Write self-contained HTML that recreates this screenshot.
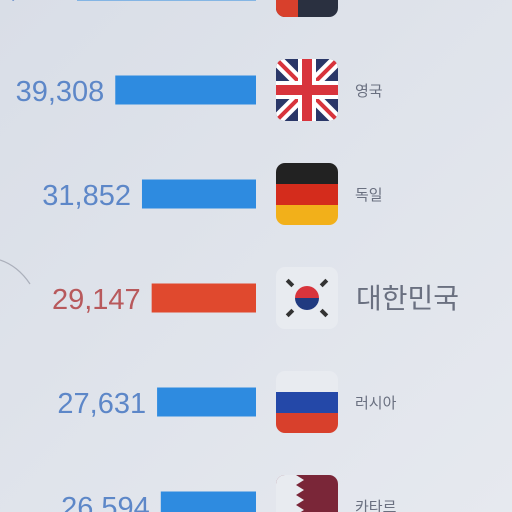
<!DOCTYPE html>
<html><head><meta charset="utf-8"><style>
html,body{margin:0;padding:0;width:512px;height:512px;overflow:hidden;background:#dde2ea}
svg{display:block}
.num{font-family:"Liberation Sans Narrow","Liberation Sans",sans-serif;font-size:29px}
.lbl{font-family:"Liberation Sans","Noto Sans CJK KR",sans-serif;fill:#6a7080}
</style></head><body>
<svg id="chart" width="512" height="512">
<defs>
<linearGradient id="bg" x1="0" y1="0" x2="1" y2="1"><stop offset="0" stop-color="#d9dee7"/><stop offset="1" stop-color="#e6e9ef"/></linearGradient>
<clipPath id="fc"><rect x="0" y="0" width="62" height="62" rx="9"/></clipPath>
</defs>
<rect width="512" height="512" fill="url(#bg)"/>
<path d="M0,260 Q18,266 30,284" stroke="#8a909c" stroke-width="1.2" fill="none" opacity="0.6"/>
<g id="rows"></g>
</svg>
<script>
const countries = ["미국","영국","독일","대한민국","러시아","카타르"];
const values = [50000,39308,31852,29147,27631,26594];
const labels = ["50,000","39,308","31,852","29,147","27,631","26,594"];
const highlight = [false,false,false,true,false,false];

const NS="http://www.w3.org/2000/svg";
const g=document.getElementById('rows');
const barRight=256, scale=0.00358, rowY0=-14, rowStep=104, barH=29;
function xw(v){return v*scale;}
function yc(i){return rowY0+i*rowStep;}
function mk(t,a,p){const e=document.createElementNS(NS,t);for(const k in a)e.setAttribute(k,a[k]);(p||g).appendChild(e);return e;}

function flag(i,grp){
  const c=countries[i];
  if(c==="영국"){
    mk('rect',{x:0,y:0,width:62,height:62,fill:'#2a3768'},grp);
    mk('path',{d:'M0,0L62,62M62,0L0,62',stroke:'#fff',"stroke-width":12},grp);
    mk('path',{d:'M0,0L62,62M62,0L0,62',stroke:'#d8343c',"stroke-width":4},grp);
    mk('path',{d:'M31,0V62M0,31H62',stroke:'#fff',"stroke-width":18},grp);
    mk('path',{d:'M31,0V62M0,31H62',stroke:'#d8343c',"stroke-width":10},grp);
  } else if(c==="독일"){
    mk('rect',{x:0,y:0,width:62,height:21,fill:'#222'},grp);
    mk('rect',{x:0,y:21,width:62,height:21,fill:'#d42c1c'},grp);
    mk('rect',{x:0,y:42,width:62,height:20,fill:'#f2b01a'},grp);
  } else if(c==="대한민국"){
    mk('rect',{x:0,y:0,width:62,height:62,fill:'#e8ebf0'},grp);
    mk('path',{d:'M19,31A12,12 0 0 1 43,31Z',fill:'#d8343c'},grp);
    mk('path',{d:'M19,31A12,12 0 0 0 43,31Z',fill:'#203a80'},grp);
    [[14,16],[48,16],[14,46],[48,46]].forEach(p=>mk('rect',{x:p[0]-4,y:p[1]-2,width:8,height:4,fill:'#333',transform:`rotate(${(p[0]<31)===(p[1]<31)?45:-45} ${p[0]} ${p[1]})`},grp));
  } else if(c==="러시아"){
    mk('rect',{x:0,y:0,width:62,height:21,fill:'#e8ebf0'},grp);
    mk('rect',{x:0,y:21,width:62,height:21,fill:'#2448a8'},grp);
    mk('rect',{x:0,y:42,width:62,height:20,fill:'#d8402c'},grp);
  } else if(c==="카타르"){
    mk('rect',{x:0,y:0,width:62,height:62,fill:'#7a2638'},grp);
    mk('path',{d:'M0,0H20L28,5L20,10L28,15L20,20L28,25L20,30L28,35L20,40L28,45L20,50L28,55L20,62H0Z',fill:'#e8ebf0'},grp);
  } else {
    mk('rect',{x:0,y:0,width:62,height:62,fill:'#2a3040'},grp);
    mk('rect',{x:0,y:0,width:22,height:62,fill:'#d8402c'},grp);
  }
}

countries.forEach((c,i)=>{
  const y=yc(i), w=xw(values[i]);
  const bar=mk('rect',{x:barRight-w,y:y-barH/2,width:w,height:barH,fill:highlight[i]?'#e0492e':'#2e8be0'});
  
  
  const t=mk('text',{x:barRight-w-11,y:y+11,"text-anchor":"end",class:'num',fill:highlight[i]?'#b8595c':'#5d87c8'});
  t.textContent=labels[i];
  
  
  const fg=mk('g',{transform:`translate(276,${y-31})`});
  
  
  const inner=mk('g',{"clip-path":"url(#fc)"},fg);
  flag(i,inner);
  const big=highlight[i];
  const l=mk('text',{x:big?356:355,y:y+(big?10:6),class:'lbl',"font-size":big?28:15,"font-weight":'normal'});
  l.textContent=c;
  
  
});
</script>
</body></html>
